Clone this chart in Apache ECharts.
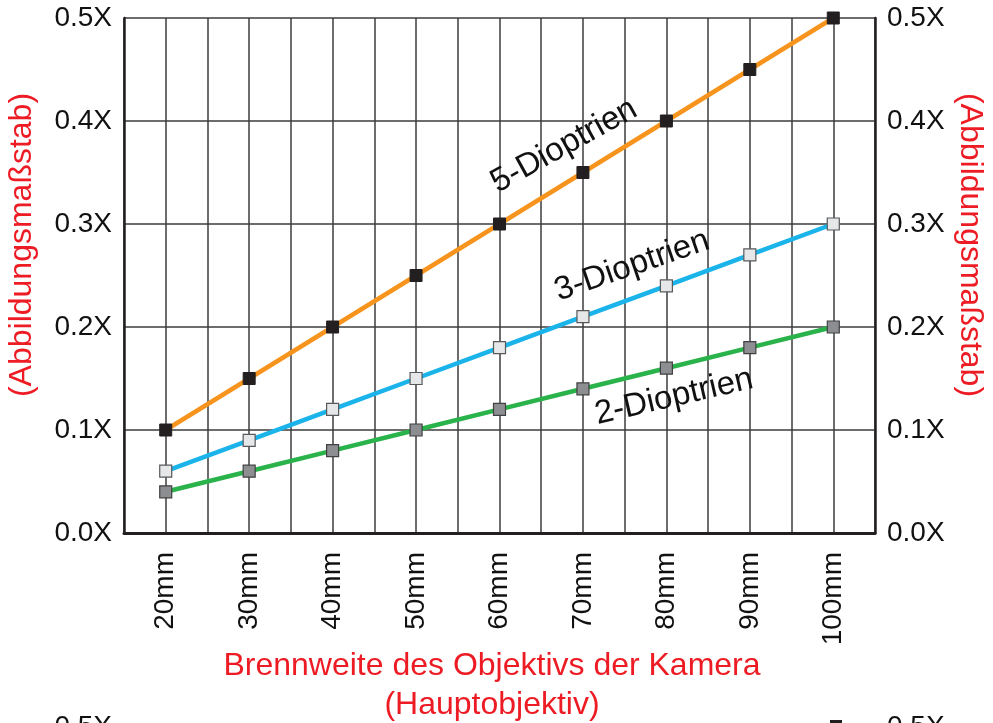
<!DOCTYPE html>
<html>
<head>
<meta charset="utf-8">
<script src="https://cdn.jsdelivr.net/npm/echarts@6/dist/echarts.min.js"></script>
<style>
html,body{margin:0;padding:0;background:#fff;}
#c{width:993px;height:723px;}
</style>
</head>
<body>
<div id="c"></div>
<script>
var focalLengths = [20, 30, 40, 50, 60, 70, 80, 90, 100];
var diopter5 = [0.10, 0.15, 0.20, 0.25, 0.30, 0.35, 0.40, 0.45, 0.50];
var diopter3 = [0.06, 0.09, 0.12, 0.15, 0.18, 0.21, 0.24, 0.27, 0.30];
var diopter2 = [0.04, 0.06, 0.08, 0.10, 0.12, 0.14, 0.16, 0.18, 0.20];
var seriesNames = ['5-Dioptrien', '3-Dioptrien', '2-Dioptrien'];
var yAxisTitle = '(Abbildungsmaßstab)';
var xAxisTitle1 = 'Brennweite des Objektivs der Kamera';
var xAxisTitle2 = '(Hauptobjektiv)';

function pairs(vals){ return focalLengths.map(function(f,i){ return [f, vals[i]]; }); }

var chart = echarts.init(document.getElementById('c'), null, {renderer:'canvas'});
var font = 'Liberation Sans, Arial, sans-serif';
var gridColor = '#3c3c3c';
var axisColor = '#231f20';
var textColor = '#111111';
var red = '#ed1c24';

function yAxisDef(pos){
  return {
    type:'value', position:pos, min:0, max:0.5, interval:0.1,
    axisLine:{show:true, lineStyle:{color:axisColor, width:2.5}},
    axisTick:{show:false},
    splitLine:{show: pos==='left', lineStyle:{color:gridColor, width:1.5}},
    axisLabel:{color:textColor, fontSize:28, fontFamily:font, margin:12,
      formatter:function(v){ return v.toFixed(1)+'X'; }}
  };
}

var option = {
  animation:false,
  backgroundColor:'#fff',
  grid:{left:124, right:118, top:18, bottom:190, containLabel:false},
  xAxis:{
    type:'value', min:15, max:105, interval:5,
    axisLine:{show:true, onZero:false, lineStyle:{color:axisColor, width:3}},
    axisTick:{show:false},
    splitLine:{show:true, lineStyle:{color:gridColor, width:1.5}},
    axisLabel:{rotate:90, color:textColor, fontSize:28, fontFamily:font, margin:19,
      showMinLabel:true, showMaxLabel:true,
      formatter:function(v){ return (focalLengths.indexOf(v) >= 0) ? v+'mm' : ''; }}
  },
  yAxis:[yAxisDef('left'), yAxisDef('right')],
  series:[
    {name:seriesNames[0], type:'line', data:pairs(diopter5), symbol:'rect', symbolSize:12,
     lineStyle:{color:'#f7941d', width:4.5}, itemStyle:{color:'#231f20', borderColor:'#231f20', borderWidth:1}, z:3},
    {name:seriesNames[1], type:'line', data:pairs(diopter3), symbol:'rect', symbolSize:12,
     lineStyle:{color:'#1bb4ea', width:4.5}, itemStyle:{color:'#e6e7e8', borderColor:'#58595b', borderWidth:1.2}, z:3},
    {name:seriesNames[2], type:'line', data:pairs(diopter2), symbol:'rect', symbolSize:12,
     lineStyle:{color:'#2bb34b', width:4.5}, itemStyle:{color:'#8c8e91', borderColor:'#414042', borderWidth:1.2}, z:3}
  ],
  graphic:[
    {type:'text', x:22, y:245, rotation:Math.PI/2, z:10,
     style:{text:yAxisTitle, fill:red, font:'32px '+font, align:'center', verticalAlign:'middle'}},
    {type:'text', x:970, y:245, rotation:-Math.PI/2, z:10,
     style:{text:yAxisTitle, fill:red, font:'32px '+font, align:'center', verticalAlign:'middle'}},
    {type:'text', x:492, y:666, z:10,
     style:{text:xAxisTitle1, fill:red, font:'32px '+font, align:'center', verticalAlign:'middle'}},
    {type:'text', x:492, y:705, z:10,
     style:{text:xAxisTitle2, fill:red, font:'32px '+font, align:'center', verticalAlign:'middle'}},
    {type:'text', x:564, y:146, rotation:29*Math.PI/180, z:10,
     style:{text:seriesNames[0], fill:textColor, font:'33px '+font, align:'center', verticalAlign:'middle'}},
    {type:'text', x:632, y:266, rotation:19*Math.PI/180, z:10,
     style:{text:seriesNames[1], fill:textColor, font:'33px '+font, align:'center', verticalAlign:'middle'}},
    {type:'text', x:674, y:397, rotation:13*Math.PI/180, z:10,
     style:{text:seriesNames[2], fill:textColor, font:'33px '+font, align:'center', verticalAlign:'middle'}},
    {type:'text', x:112, y:713, z:10,
     style:{text:'0.5X', fill:textColor, font:'28px '+font, align:'right', verticalAlign:'top'}},
    {type:'text', x:887, y:713, z:10,
     style:{text:'0.5X', fill:textColor, font:'28px '+font, align:'left', verticalAlign:'top'}},
    {type:'rect', shape:{x:830, y:720, width:12, height:6}, style:{fill:'#231f20'}, z:10}
  ]
};
chart.setOption(option);
</script>
</body>
</html>
